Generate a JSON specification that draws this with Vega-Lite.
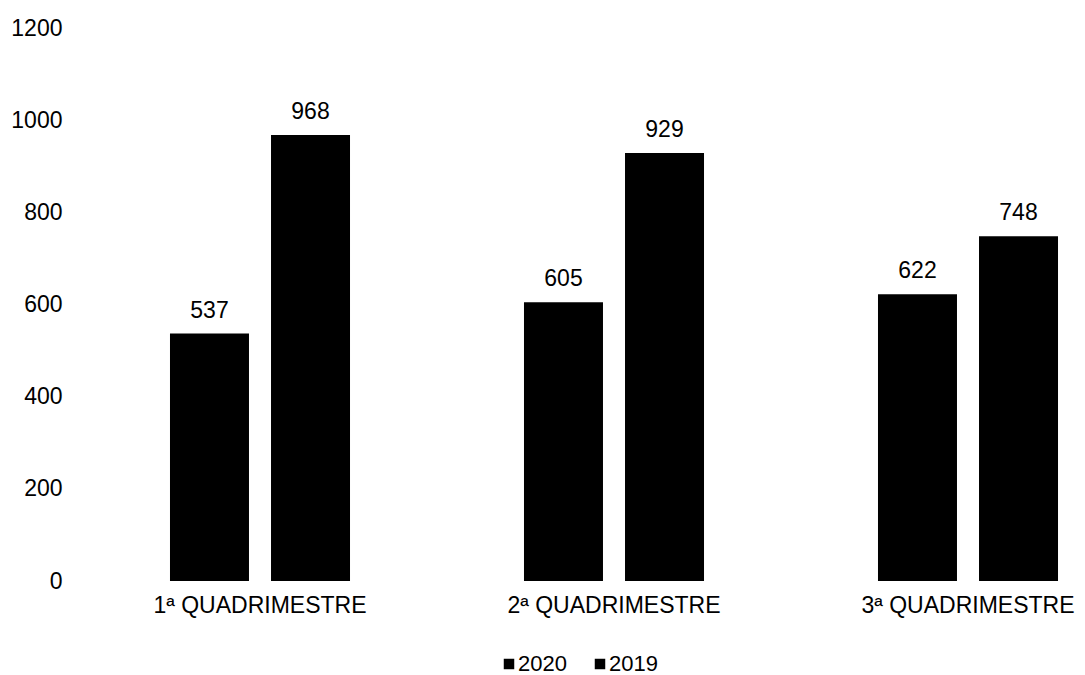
{
  "$schema": "https://vega.github.io/schema/vega-lite/v6.json",
  "autosize": "none",
  "width": 1062,
  "height": 553,
  "padding": {"left": 83, "top": 28, "right": 0, "bottom": 94},
  "background": "white",
  "config": {"view": {"stroke": null}, "font": "Liberation Sans"},
  "data": {"values": [
    {"q": "1ª QUADRIMESTRE", "ano": "2020", "v": 537},
    {"q": "1ª QUADRIMESTRE", "ano": "2019", "v": 968},
    {"q": "2ª QUADRIMESTRE", "ano": "2020", "v": 605},
    {"q": "2ª QUADRIMESTRE", "ano": "2019", "v": 929},
    {"q": "3ª QUADRIMESTRE", "ano": "2020", "v": 622},
    {"q": "3ª QUADRIMESTRE", "ano": "2019", "v": 748}
  ]},
  "encoding": {
    "x": {"field": "q", "type": "nominal", "title": null,
      "scale": {"paddingInner": 0, "paddingOuter": 0},
      "axis": {"labelAngle": 0, "domain": false, "ticks": false, "labelLimit": 0, "labelFontSize": 23, "labelColor": "#000", "labelPadding": 13, "labelFont": "Liberation Sans"}},
    "xOffset": {"field": "ano", "type": "nominal", "sort": ["2020", "2019"],
      "scale": {"paddingInner": 0.218, "paddingOuter": 0.861}},
    "y": {"field": "v", "type": "quantitative", "title": null,
      "scale": {"domain": [0, 1200]},
      "axis": {"values": [0, 200, 400, 600, 800, 1000, 1200], "format": "d", "grid": false, "domain": false, "ticks": false, "labelFontSize": 23, "labelColor": "#000", "labelPadding": 21, "labelFont": "Liberation Sans"}}
  },
  "layer": [
    {"mark": {"type": "bar", "color": "#000"},
      "encoding": {"color": {"field": "ano", "type": "nominal", "sort": ["2020", "2019"],
        "scale": {"range": ["#000000", "#000000"]},
        "legend": {"title": null, "orient": "none", "direction": "horizontal", "legendX": 415, "legendY": 625,
          "symbolType": "square", "symbolSize": 110, "symbolStrokeWidth": 0, "labelFontSize": 22, "labelColor": "#000", "columnPadding": 22, "labelOffset": -2, "labelFont": "Liberation Sans"}}}},
    {"mark": {"type": "text", "dy": -16, "baseline": "alphabetic", "fontSize": 23, "color": "#000", "font": "Liberation Sans"},
      "encoding": {"text": {"field": "v", "type": "quantitative"}}}
  ]
}
